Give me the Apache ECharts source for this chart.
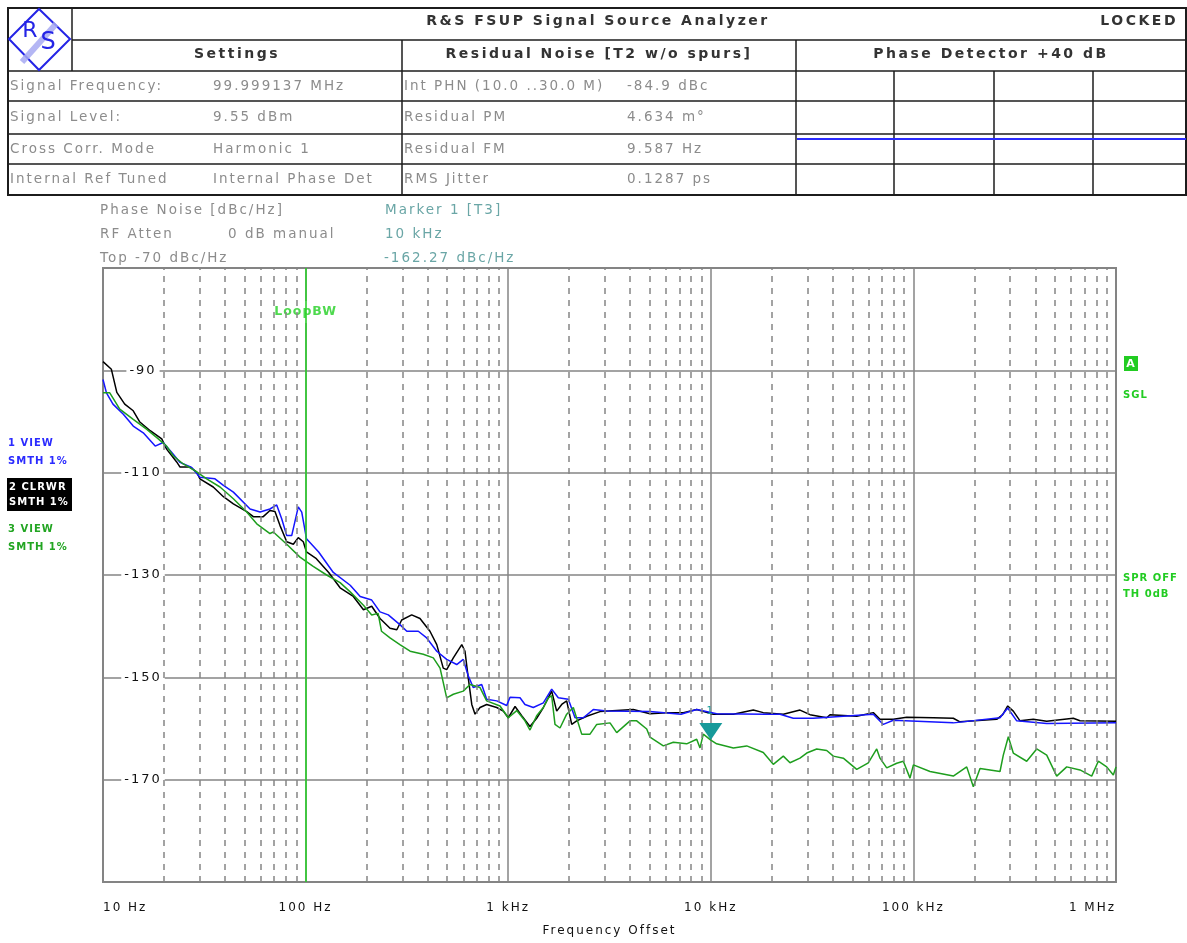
<!DOCTYPE html>
<html>
<head>
<meta charset="utf-8">
<script src="https://cdn.jsdelivr.net/npm/echarts@6/dist/echarts.min.js"></script>
<style>
  html, body { margin: 0; padding: 0; background: #fff; }
  #chart { width: 1187px; height: 943px; }
</style>
</head>
<body>
<div id="chart"></div>
<script>
// ---- Trace data: offset frequency [Hz] and phase noise [dBc/Hz] ----
const blackFreq = [10, 11.0, 11.7, 12.8, 14.1, 15.2, 17.1, 19.5, 20.6, 23.1,
  24.0, 26.9, 29.0, 30.1, 35.0, 39.3, 44.0, 51.2, 55.2, 61.8,
  66.7, 70.6, 74.7, 80.7, 87.0, 92.0, 97.4, 101, 113, 130,
  148, 172, 193, 212, 233, 261, 282, 298, 334, 367,
  411, 444, 478, 497, 536, 590, 612, 635, 661, 686,
  726, 783, 878, 946, 1001, 1081, 1166, 1281, 1382, 1491,
  1639, 1735, 1837, 1944, 2058, 2178, 2441, 2839, 4145, 5011,
  6058, 7316, 8520, 10290, 12920, 16210, 18160, 22800, 27560, 30880,
  37340, 38760, 52520, 63390, 68410, 79590, 92680, 125400, 157400, 169800,
  257700, 276000, 292100, 311200, 335900, 390700, 455000, 615500, 664200, 1000000];
const blackLevel = [-88.3, -89.8, -94.3, -96.6, -97.9, -100.1, -101.8, -103.4, -105.4, -107.9,
  -108.9, -108.9, -109.9, -111.2, -112.8, -114.7, -116.1, -117.6, -118.6, -118.6,
  -117.4, -117.6, -120.3, -123.5, -124.0, -122.7, -123.5, -125.5, -126.8, -129.5,
  -132.5, -134.2, -136.8, -136.1, -138.5, -140.4, -140.7, -138.8, -137.8, -138.5,
  -141.0, -143.6, -148.2, -148.5, -146.2, -143.6, -144.9, -150.1, -155.3, -157.2,
  -155.9, -155.3, -155.9, -156.6, -157.9, -155.7, -157.5, -159.6, -158.0, -155.9,
  -152.7, -156.6, -155.3, -154.6, -159.2, -158.5, -157.6, -156.7, -156.3, -157.1,
  -156.9, -156.9, -156.3, -157.2, -157.2, -156.4, -156.9, -157.2, -156.4, -157.3,
  -157.9, -157.3, -157.6, -156.9, -158.2, -158.2, -157.8, -157.9, -158.0, -158.7,
  -158.2, -157.3, -155.6, -156.6, -158.5, -158.2, -158.6, -158.0, -158.5, -158.6];

const blueFreq = [10, 10.4, 11.2, 12.6, 14.1, 15.8, 18.1, 19.8, 21.8, 24.0,
  27.4, 30.1, 35.7, 39.3, 44.0, 53.2, 59.6, 66.7, 72.0, 76.2,
  80.7, 85.4, 92.0, 95.7, 101, 116, 137, 166, 186, 212,
  233, 256, 292, 316, 360, 396, 444, 497, 557, 600,
  635, 672, 740, 783, 878, 983, 1021, 1144, 1210, 1330,
  1491, 1639, 1767, 1981, 2137, 2349, 2630, 3063, 5011, 7127,
  8520, 10690, 18870, 21960, 25540, 32060, 63390, 71030, 79590, 157400,
  267600, 292100, 323600, 455000, 1000000];
const blueLevel = [-91.8, -94.4, -96.6, -98.6, -100.9, -102.2, -104.8, -104.1, -106.0, -108.0,
  -109.0, -110.9, -111.2, -112.5, -113.8, -117.1, -117.7, -117.1, -116.3, -119.0,
  -122.3, -122.3, -116.7, -117.7, -122.9, -125.5, -129.5, -132.0, -134.2, -134.9,
  -137.2, -137.8, -139.7, -141.0, -141.0, -142.3, -144.9, -146.5, -147.5, -146.5,
  -149.7, -152.0, -151.4, -154.3, -154.6, -155.5, -153.9, -154.0, -155.3, -155.9,
  -155.0, -152.3, -154.0, -154.3, -157.9, -157.9, -156.3, -156.6, -156.7, -157.2,
  -156.3, -157.1, -157.2, -157.2, -158.0, -158.0, -157.2, -159.2, -158.4, -158.9,
  -157.9, -156.0, -158.5, -159.0, -158.9];

const greenFreq = [10, 10.8, 12.1, 14.1, 16.4, 18.75, 20.6, 22.2, 24.9, 28.4,
  32.5, 37.8, 44.0, 51.2, 57.4, 66.7, 69.3, 80.7, 93.8, 109,
  127, 148, 166, 193, 212, 228, 237, 261, 292, 328,
  381, 427, 461, 497, 536, 600, 648, 726, 783, 911,
  1001, 1102, 1210, 1281, 1382, 1491, 1578, 1639, 1702, 1802,
  1944, 2096, 2306, 2534, 2735, 3181, 3432, 3993, 4309, 4827,
  5011, 5831, 6531, 7603, 8520, 8846, 9184, 10000, 10690, 12920,
  15040, 18160, 20340, 22800, 24600, 27560, 29750, 33320, 37340, 40240,
  45080, 52520, 59900, 65900, 68410, 73840, 82740, 89170, 96210, 100000,
  120800, 157400, 183300, 197600, 213200, 238800, 267600, 277800, 294100, 311200,
  362400, 406100, 455000, 509700, 571100, 664200, 758600, 817800, 899500, 970000,
  1000000];
const greenLevel = [-94.4, -94.4, -97.6, -99.6, -101.5, -103.4, -104.8, -106.7, -108.3, -109.6,
  -111.2, -112.8, -115.1, -117.7, -120.0, -121.9, -121.6, -124.0, -126.5, -128.3,
  -130.0, -131.5, -133.3, -135.9, -137.8, -137.5, -141.0, -142.3, -143.6, -144.9,
  -145.5, -146.2, -148.2, -154.0, -153.3, -152.7, -151.4, -152.0, -154.6, -155.6,
  -157.9, -156.5, -158.5, -160.3, -157.5, -155.9, -154.0, -153.6, -159.2, -159.9,
  -157.2, -155.9, -161.1, -161.1, -159.2, -158.9, -160.8, -158.5, -158.5, -160.1,
  -161.7, -163.4, -162.7, -163.0, -162.1, -163.8, -161.1, -162.27, -163.0, -163.8,
  -163.4, -164.7, -167.0, -165.4, -166.7, -165.8, -164.8, -164.0, -164.3, -165.4,
  -165.8, -168.0, -166.7, -164.0, -165.8, -167.7, -166.8, -166.4, -169.7, -167.1,
  -168.4, -169.3, -167.5, -171.4, -167.8, -168.1, -168.4, -165.2, -161.6, -164.8,
  -166.4, -164.0, -165.2, -169.3, -167.5, -168.1, -169.3, -166.4, -167.5, -169.1,
  -167.5];

// Marker 1 on trace 3
const markerFreq = 10000;
const markerLevel = -162.27;
const loopBandwidth = 100;

// ---- Axis ticks ----
const xTickValues = [10, 100, 1000, 10000, 100000, 1000000];
const xTickLabels = ['10 Hz', '100 Hz', '1 kHz', '10 kHz', '100 kHz', '1 MHz'];

// ---- Header table text ----
const settingsLabels = ['Signal Frequency:', 'Signal Level:', 'Cross Corr. Mode', 'Internal Ref Tuned'];
const settingsValues = ['99.999137 MHz', '9.55 dBm', 'Harmonic 1', 'Internal Phase Det'];
const residualLabels = ['Int PHN (10.0 ..30.0 M)', 'Residual PM', 'Residual FM', 'RMS Jitter'];
const residualValues = ['-84.9 dBc', '4.634 m\u00b0', '9.587 Hz', '0.1287 ps'];

// Instrument-style tracked lettering for canvas text
(function trackCanvasText() {
  const proto = CanvasRenderingContext2D.prototype;
  const desc = Object.getOwnPropertyDescriptor(proto, 'font');
  if (!desc || !('letterSpacing' in proto)) return;
  Object.defineProperty(proto, 'font', {
    configurable: true,
    get() { return desc.get.call(this); },
    set(v) {
      desc.set.call(this, v);
      const m = /([\d.]+)px/.exec(v);
      const size = m ? parseFloat(m[1]) : 12;
      const bold = /bold/.test(v);
      this.letterSpacing = bold ? (size >= 13 ? '2.5px' : '1px') : (size >= 18 ? '0px' : '2px');
    }
  });
})();

const FONT = '"DejaVu Sans"';
const INK = '#1c1c1c';
const GREY_TXT = '#8c8c8c';
const TEAL_TXT = '#6aa6a6';
const GRID = '#858585';
const MARKER = '#179a9a';
const LOOP_GREEN = '#22d022';

function hline(x1, x2, y, stroke, w) {
  return { type: 'line', silent: true, z: 10, shape: { x1: x1, y1: y, x2: x2, y2: y },
    style: { stroke: stroke || INK, lineWidth: w || 1.5 } };
}
function vline(x, y1, y2, stroke, w) {
  return { type: 'line', silent: true, z: 10, shape: { x1: x, y1: y1, x2: x, y2: y2 },
    style: { stroke: stroke || INK, lineWidth: w || 1.5 } };
}
function txt(x, y, text, font, fill, align) {
  return { type: 'text', silent: true, z: 11, x: x, y: y,
    style: { text: text, font: font, fill: fill, textAlign: align || 'left', textVerticalAlign: 'middle' } };
}

// ---- Header table ----
const rowMid = [86, 117, 149, 179.5];
const TABLE_R = 1186;
const elements = [];
elements.push({ type: 'rect', silent: true, z: 10, shape: { x: 8, y: 8, width: TABLE_R - 8, height: 187 },
  style: { fill: '#fff', stroke: INK, lineWidth: 2 } });
elements.push(vline(72, 8, 71));
elements.push(hline(72, TABLE_R, 40));
elements.push(hline(8, TABLE_R, 71));
[101, 134, 164].forEach(y => elements.push(hline(8, TABLE_R, y)));
elements.push(vline(402, 40, 195));
elements.push(vline(796, 40, 195));
[894, 994, 1093].forEach(x => elements.push(vline(x, 71, 195)));
elements.push(hline(797, TABLE_R, 139, '#2a2aff', 2));

// R&S logo
elements.push({ type: 'polygon', silent: true, z: 11,
  shape: { points: [[39, 9], [70, 39], [39, 70], [9, 39]] },
  style: { fill: '#fff', stroke: '#2424e6', lineWidth: 2 } });
elements.push({ type: 'line', silent: true, z: 11, shape: { x1: 22, y1: 62, x2: 56, y2: 24 },
  style: { stroke: '#a7a9f2', lineWidth: 6, opacity: 0.85 } });
elements.push(txt(30, 31, 'R', '22px ' + FONT, '#2424e6', 'center'));
elements.push(txt(48, 43, 'S', '24px ' + FONT, '#2424e6', 'center'));

const BOLD = 'bold 14px ' + FONT;
const REG = '13.5px ' + FONT;
elements.push(txt(598, 21, 'R&S FSUP Signal Source Analyzer', BOLD, '#333', 'center'));
elements.push(txt(1178, 21, 'LOCKED', BOLD, '#333', 'right'));
elements.push(txt(237, 54, 'Settings', BOLD, '#333', 'center'));
elements.push(txt(599, 54, 'Residual Noise [T2 w/o spurs]', BOLD, '#333', 'center'));
elements.push(txt(991, 54, 'Phase Detector +40 dB', BOLD, '#333', 'center'));
settingsLabels.forEach((t, i) => elements.push(txt(10, rowMid[i], t, REG, GREY_TXT)));
settingsValues.forEach((t, i) => elements.push(txt(213, rowMid[i], t, REG, GREY_TXT)));
residualLabels.forEach((t, i) => elements.push(txt(404, rowMid[i], t, REG, GREY_TXT)));
residualValues.forEach((t, i) => elements.push(txt(627, rowMid[i], t, REG, GREY_TXT)));

// ---- Trace info above the diagram ----
elements.push(txt(100, 210, 'Phase Noise [dBc/Hz]', REG, GREY_TXT));
elements.push(txt(100, 234, 'RF Atten', REG, GREY_TXT));
elements.push(txt(228, 234, '0 dB manual', REG, GREY_TXT));
elements.push(txt(100, 258, 'Top -70 dBc/Hz', REG, GREY_TXT));
elements.push(txt(385, 210, 'Marker 1 [T3]', REG, TEAL_TXT));
elements.push(txt(385, 234, (markerFreq / 1000) + ' kHz', REG, TEAL_TXT));
elements.push(txt(384, 258, markerLevel.toFixed(2) + ' dBc/Hz', REG, TEAL_TXT));

// ---- Trace annotations at the left ----
const SMALL = 'bold 10px ' + FONT;
elements.push(txt(8, 443, '1 VIEW', SMALL, '#2b2bff'));
elements.push(txt(8, 461, 'SMTH 1%', SMALL, '#2b2bff'));
elements.push({ type: 'rect', silent: true, z: 10, shape: { x: 7, y: 478, width: 65, height: 33 }, style: { fill: '#000' } });
elements.push(txt(9, 487, '2 CLRWR', SMALL, '#fff'));
elements.push(txt(9, 502, 'SMTH 1%', SMALL, '#fff'));
elements.push(txt(8, 529, '3 VIEW', SMALL, '#22a522'));
elements.push(txt(8, 547, 'SMTH 1%', SMALL, '#22a522'));

// ---- Status annotations at the right ----
elements.push({ type: 'rect', silent: true, z: 10, shape: { x: 1124, y: 356, width: 14, height: 15 }, style: { fill: '#22cc22' } });
elements.push(txt(1131, 364, 'A', 'bold 11px ' + FONT, '#fff', 'center'));
elements.push(txt(1123, 395, 'SGL', SMALL, '#22cc22'));
elements.push(txt(1123, 578, 'SPR OFF', SMALL, '#22cc22'));
elements.push(txt(1123, 594, 'TH 0dB', SMALL, '#22cc22'));

// ---- Minor (dashed) frequency grid and loop bandwidth line ----
const minorGridFreqs = [];
xTickValues.slice(0, -1).forEach(d => { for (let k = 2; k <= 9; k++) minorGridFreqs.push(d * k); });
const guideLines = [];
minorGridFreqs.forEach(f => guideLines.push({ xAxis: f, lineStyle: { color: GRID, width: 1.5, type: [6, 6] } }));
guideLines.push({ xAxis: loopBandwidth, lineStyle: { color: LOOP_GREEN, width: 1.5, type: 'solid' } });

const zip = (xs, ys) => xs.map((x, i) => [x, ys[i]]);
const LOOP_LABEL_LEVEL = -78.6;

const chart = echarts.init(document.getElementById('chart'), null, { renderer: 'canvas' });
chart.setOption({
  animation: false,
  backgroundColor: '#fff',
  textStyle: { fontFamily: 'DejaVu Sans' },
  graphic: { elements: elements },
  grid: { left: 103, right: 71, top: 268, bottom: 58, show: true, borderColor: GRID, borderWidth: 2, backgroundColor: 'transparent' },
  xAxis: {
    type: 'log', logBase: 10, min: 10, max: 1000000,
    axisLine: { show: false }, axisTick: { show: false },
    splitLine: { show: true, lineStyle: { color: GRID, width: 1.5 } },
    minorTick: { show: false }, minorSplitLine: { show: false },
    axisLabel: {
      margin: 19, color: '#111', fontSize: 12, fontFamily: 'DejaVu Sans',
      alignMinLabel: 'left', alignMaxLabel: 'right',
      formatter: v => {
        const i = xTickValues.indexOf(Math.pow(10, Math.round(Math.log10(v))));
        return i >= 0 ? xTickLabels[i] : '';
      }
    },
    name: 'Frequency Offset', nameLocation: 'middle', nameGap: 42,
    nameTextStyle: { color: '#111', fontSize: 12, fontFamily: 'DejaVu Sans' }
  },
  yAxis: {
    type: 'value', min: -190, max: -70, interval: 20,
    axisLine: { show: false }, axisTick: { show: false },
    splitLine: { show: true, lineStyle: { color: GRID, width: 1.5 } },
    axisLabel: {
      inside: true, margin: 40, align: 'center', color: '#111', fontSize: 13, fontFamily: 'DejaVu Sans',
      backgroundColor: '#ffffff', padding: [2, 3], showMinLabel: false, showMaxLabel: false
    }
  },
  series: [
    {
      name: 'guides', type: 'line', z: 1, silent: true, data: [], showSymbol: false,
      markLine: { silent: true, symbol: ['none', 'none'], label: { show: false }, animation: false, data: guideLines }
    },
    {
      name: '2 CLRWR', type: 'line', z: 2, showSymbol: false, silent: true,
      lineStyle: { color: '#000', width: 1.5 }, data: zip(blackFreq, blackLevel)
    },
    {
      name: '1 VIEW', type: 'line', z: 2, showSymbol: false, silent: true,
      lineStyle: { color: '#1515ff', width: 1.5 }, data: zip(blueFreq, blueLevel)
    },
    {
      name: '3 VIEW', type: 'line', z: 2, showSymbol: false, silent: true,
      lineStyle: { color: '#1e9e1e', width: 1.5 }, data: zip(greenFreq, greenLevel)
    },
    {
      // Marker 1: downward triangle with its tip on the trace
      name: 'Marker 1', type: 'scatter', z: 5, silent: true,
      symbol: 'path://M0,0 L10,0 L5,8 Z', symbolSize: [23, 17], symbolOffset: [0, '-50%'],
      itemStyle: { color: MARKER, opacity: 1 },
      data: [[markerFreq, markerLevel]],
      label: { show: true, position: 'top', distance: 6, formatter: '1', color: MARKER, fontSize: 10, fontFamily: 'DejaVu Sans' }
    },
    {
      name: 'LoopBW', type: 'scatter', z: 4, silent: true, symbol: 'circle', symbolSize: 1,
      itemStyle: { color: 'rgba(0,0,0,0)' },
      data: [[loopBandwidth, LOOP_LABEL_LEVEL]],
      label: { show: true, position: 'inside', formatter: 'LoopBW', color: LOOP_GREEN, fontSize: 12.5, fontWeight: 'bold',
        fontFamily: 'DejaVu Sans', backgroundColor: '#ffffff', padding: [4, 2] }
    }
  ]
});
</script>
</body>
</html>
